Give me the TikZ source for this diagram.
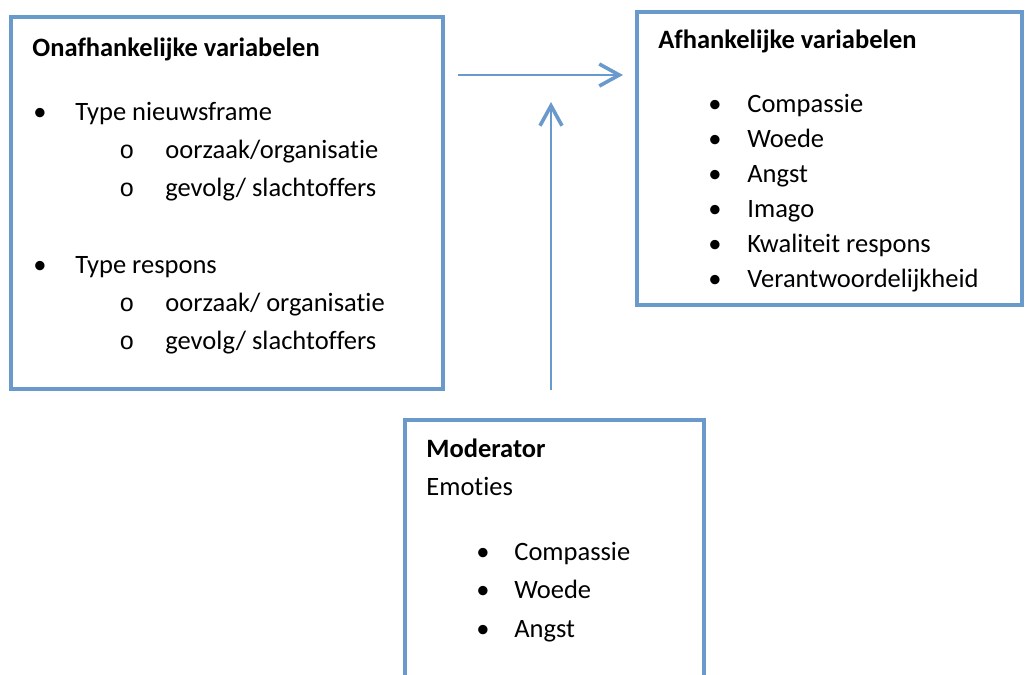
\documentclass[tikz,border=0pt]{standalone}
\usepackage{fontspec}
\setmainfont{Carlito}[Ligatures=NoCommon]
\newfontfamily\courierfont{Liberation Mono}
\usetikzlibrary{arrows.meta}
\definecolor{boxblue}{RGB}{106,154,204}
\begin{document}
\begin{tikzpicture}[
  x=0.5pt, y=-0.5pt,
  every node/.style={font=\fontsize{13.25}{16}\selectfont},
  box/.style={draw=boxblue, line width=2pt, inner sep=0pt},
  txt/.style={anchor=base west, inner sep=0pt},
  conn/.style={draw=boxblue, line width=0.8pt,
    -{Straight Barb[length=10pt, width=11pt, line width=1.8pt]}}
]
  \clip (0,0) rectangle (1025,675);

  % Boxes
  \node[box, minimum width=215.75pt, minimum height=186pt] (onaf) at (226.75,203) {};
  \node[box, minimum width=192.5pt, minimum height=146.5pt] (afh) at (829.5,158.5) {};
  \node[box, minimum width=149.25pt, minimum height=150pt] (mod) at (554.25,570) {};

  % Left box: independent variables
  \node[txt, font=\fontsize{13.25}{16}\selectfont\bfseries] (onaftitle) at (32,56) {Onafhankelijke variabelen};
  \node[txt] (b1) at (33,120) {•};
  \node[txt] (nieuws) at (75,120) {Type nieuwsframe};
  \node[txt, font=\fontsize{12.5}{16}\selectfont\courierfont] (c1) at (119,158) {o};
  \node[txt] (n1) at (165,158) {oorzaak/organisatie};
  \node[txt, font=\fontsize{12.5}{16}\selectfont\courierfont] (c2) at (119,196) {o};
  \node[txt] (n2) at (165,196) {gevolg/ slachtoffers};
  \node[txt] (b2) at (33,273) {•};
  \node[txt] (respons) at (75,273) {Type respons};
  \node[txt, font=\fontsize{12.5}{16}\selectfont\courierfont] (c3) at (119,311) {o};
  \node[txt] (r1) at (165,311) {oorzaak/ organisatie};
  \node[txt, font=\fontsize{12.5}{16}\selectfont\courierfont] (c4) at (119,349) {o};
  \node[txt] (r2) at (165,349) {gevolg/ slachtoffers};

  % Right box: dependent variables
  \node[txt, font=\fontsize{13.25}{16}\selectfont\bfseries] (afhtitle) at (658,48) {Afhankelijke variabelen};
  \foreach \item [count=\i] in {Compassie, Woede, Angst, Imago, Kwaliteit respons, Verantwoordelijkheid} {
    \node[txt] (ab\i) at (708,{112+35*(\i-1)}) {•};
    \node[txt] (a\i) at (747,{112+35*(\i-1)}) {\item};
  }

  % Bottom box: moderator
  \node[txt, font=\fontsize{13.25}{16}\selectfont\bfseries] (modtitle) at (426,457) {Moderator};
  \node[txt] (emoties) at (426,495) {Emoties};
  \foreach \item [count=\i] in {Compassie, Woede, Angst} {
    \node[txt] (mb\i) at (476,{560+38.5*(\i-1)}) {•};
    \node[txt] (m\i) at (514,{560+38.5*(\i-1)}) {\item};
  }

  % Arrows
  \coordinate (hs) at (458,75);
  \coordinate (he) at (623,75);
  \coordinate (vs) at (551,390);
  \coordinate (ve) at (551,102);
  \draw[conn] (hs) -- (he);
  \draw[conn] (vs) -- (ve);
\end{tikzpicture}
\end{document}
